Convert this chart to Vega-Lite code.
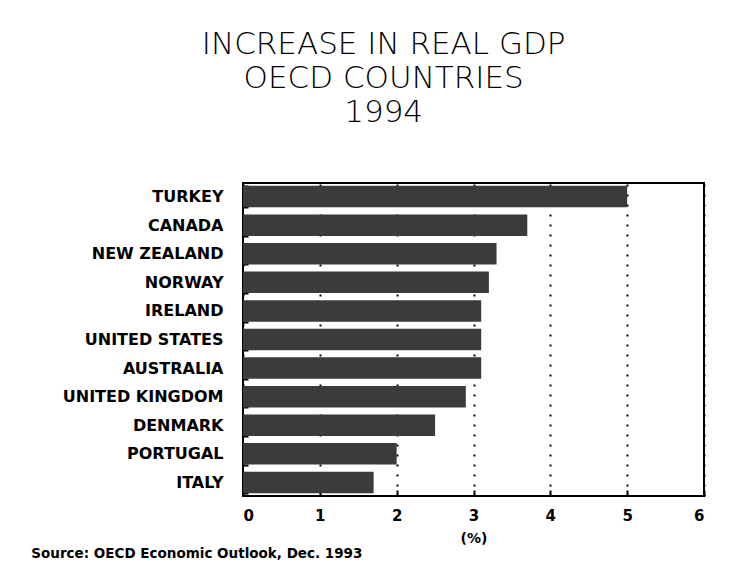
{
  "$schema": "https://vega.github.io/schema/vega-lite/v6.json",
  "background": "white",
  "padding": {"left": 31, "top": 28, "right": 20, "bottom": 5},
  "title": {
    "text": "Source: OECD Economic Outlook, Dec. 1993",
    "orient": "bottom",
    "anchor": "start",
    "frame": "bounds",
    "font": "DejaVu Sans",
    "fontSize": 13.5,
    "fontWeight": "bold",
    "color": "black",
    "dx": -30,
    "offset": 1
  },
  "data": {
    "values": [
      {"country": "TURKEY", "gdp": 5.0},
      {"country": "CANADA", "gdp": 3.7},
      {"country": "NEW ZEALAND", "gdp": 3.3},
      {"country": "NORWAY", "gdp": 3.2},
      {"country": "IRELAND", "gdp": 3.1},
      {"country": "UNITED STATES", "gdp": 3.1},
      {"country": "AUSTRALIA", "gdp": 3.1},
      {"country": "UNITED KINGDOM", "gdp": 2.9},
      {"country": "DENMARK", "gdp": 2.5},
      {"country": "PORTUGAL", "gdp": 2.0},
      {"country": "ITALY", "gdp": 1.7}
    ]
  },
  "vconcat": [
    {
      "width": 461,
      "height": 313,
      "title": {
        "text": ["INCREASE IN REAL GDP", "OECD COUNTRIES", "1994"],
        "anchor": "middle",
        "frame": "bounds",
        "font": "DejaVu Sans",
        "fontSize": 31,
        "fontWeight": 200,
        "lineHeight": 34,
        "offset": 46,
        "color": "black"
      },
      "mark": {"type": "bar", "color": "#3b3b3b"},
      "encoding": {
        "y": {
          "field": "country",
          "type": "nominal",
          "sort": null,
          "scale": {"paddingInner": 0.25, "paddingOuter": 0.1},
          "axis": {
            "title": null,
            "domain": false,
            "ticks": true,
            "tickBand": "extent",
            "tickSize": -5,
            "tickWidth": 2,
            "tickColor": "black",
            "labelFont": "DejaVu Sans",
            "labelFontSize": 16,
            "labelFontWeight": "bold",
            "labelColor": "black",
            "labelPadding": 25
          }
        },
        "x": {
          "field": "gdp",
          "type": "quantitative",
          "scale": {"domain": [0, 6]},
          "axis": {
            "title": "(%)",
            "titleFont": "DejaVu Sans",
            "titleFontSize": 14,
            "titleFontWeight": "bold",
            "titleColor": "black",
            "titlePadding": 8,
            "values": [0, 1, 2, 3, 4, 5, 6],
            "domain": false,
            "tickSize": -6,
            "tickWidth": 2,
            "tickColor": "black",
            "grid": true,
            "gridColor": "black",
            "gridDash": [2, 8],
            "gridWidth": 2,
            "labelFont": "DejaVu Sans",
            "labelFontSize": 15,
            "labelFontWeight": "bold",
            "labelColor": "black",
            "labelPadding": 18
          }
        }
      }
    }
  ],
  "config": {"view": {"stroke": "black", "strokeWidth": 2}}
}
